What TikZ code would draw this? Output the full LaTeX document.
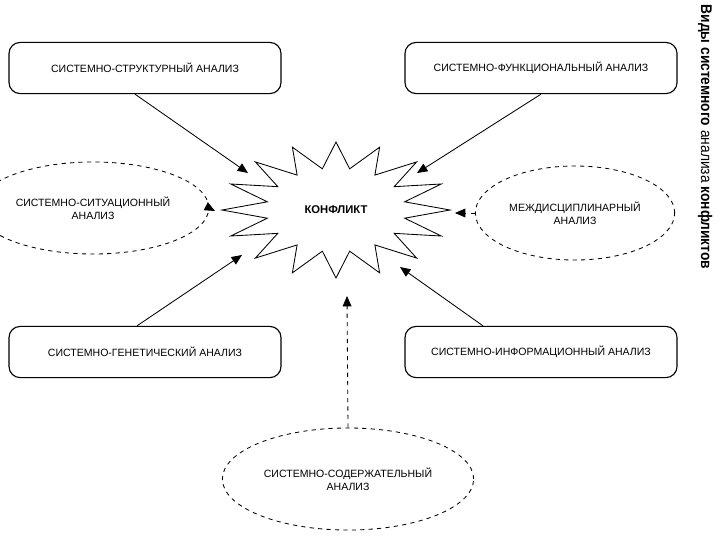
\documentclass[tikz,border=0pt]{standalone}
\usepackage{fontspec}
\setmainfont{Liberation Sans}
\usepackage{tikz}
\usetikzlibrary{shapes.geometric, arrows.meta, positioning, calc}

\begin{document}
\begin{tikzpicture}[
    x=0.025cm, y=-0.025cm,
    box/.style={rectangle, rounded corners=0.28cm, draw, thick, minimum width=6.8cm, minimum height=1.28cm, font=\fontsize{7.5}{9}\selectfont},
    oval/.style={ellipse, draw, semithick, dashed, align=center, font=\fontsize{7.5}{9}\selectfont},
    arrow/.style={-{Triangle[length=2.6mm, width=2.2mm]}, semithick},
    dasharrow/.style={-{Triangle[length=2.6mm, width=2.2mm]}, semithick, dashed}
]
\useasboundingbox (0,0) rectangle (720,540);

% the four boxes
\node[box] (sstr) at (145,68) {СИСТЕМНО-СТРУКТУРНЫЙ АНАЛИЗ};
\node[box] (sfun) at (541,68) {СИСТЕМНО-ФУНКЦИОНАЛЬНЫЙ АНАЛИЗ};
\node[box] (sgen) at (145,352) {СИСТЕМНО-ГЕНЕТИЧЕСКИЙ АНАЛИЗ};
\node[box] (sinf) at (541,352) {СИСТЕМНО-ИНФОРМАЦИОННЫЙ АНАЛИЗ};

% the three ovals
\node[oval, minimum width=4.65cm, minimum height=2.3cm] (ssit) at (93,208) {СИСТЕМНО-СИТУАЦИОННЫЙ\\АНАЛИЗ};
\node[oval, minimum width=4.65cm, minimum height=2.35cm] (mezh) at (575,213) {МЕЖДИСЦИПЛИНАРНЫЙ\\АНАЛИЗ};
\node[oval, minimum width=5.3cm, minimum height=2.55cm] (ssod) at (348,479) {СИСТЕМНО-СОДЕРЖАТЕЛЬНЫЙ\\АНАЛИЗ};

% the star
\draw[semithick, shift={(336,210)}] (90:114 and 68)
    \foreach \a in {90,112.5,...,427.5} { -- ({\a+11.25}:70 and 42) -- ({\a+22.5}:114 and 68) } -- cycle;
\node[font=\fontsize{8}{10}\selectfont\bfseries] (konflikt) at (336,210) {КОНФЛИКТ};

% where the arrows meet the star
\coordinate (inTL) at (248,173);
\coordinate (inTR) at (417,173);
\coordinate (inL) at (215,211);
\coordinate (inR) at (455,213);
\coordinate (inBL) at (242,255);
\coordinate (inBR) at (400,267);
\coordinate (inB) at (347,296);

\draw[arrow] ($(sstr.south)+(-10,0)$) -- (inTL);
\draw[arrow] (sfun.south) -- (inTR);
\draw[arrow] ($(sgen.north)+(-8,0)$) -- (inBL);
\draw[arrow] ($(sinf.north)+(-58,0)$) -- (inBR);
\draw[dasharrow] (ssit.east) -- (inL);
\draw[dasharrow] (mezh.west) -- (inR);
\draw[dasharrow] (ssod.north) -- (inB);

% side title
\node[rotate=-90, font=\fontsize{11}{13}\selectfont] (title) at (705,137)
    {\scalebox{0.89}[1]{\textbf{Виды системного} анализа \textbf{конфликтов}}};
\end{tikzpicture}
\end{document}
